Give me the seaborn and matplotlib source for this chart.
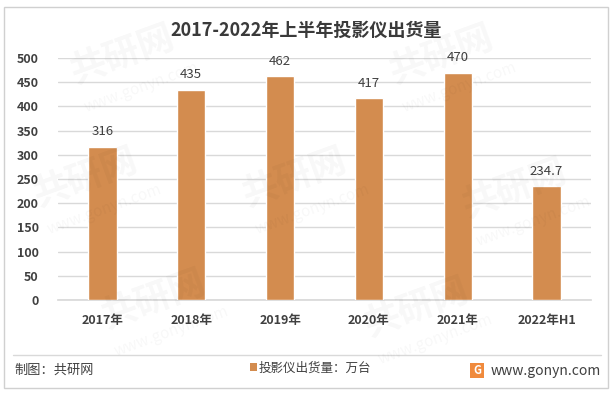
import matplotlib
matplotlib.use("Agg")
import matplotlib.pyplot as plt
import pandas as pd
import seaborn as sns
from matplotlib.patches import Rectangle

years = ["2017年", "2018年", "2019年", "2020年", "2021年", "2022年H1"]
shipments = [316, 435, 462, 417, 470, 234.7]
value_labels = ["316", "435", "462", "417", "470", "234.7"]

df = pd.DataFrame({"year": years, "shipments": shipments})

sns.set_theme(style="white")
plt.rcParams["font.family"] = ["Noto Sans CJK SC", "DejaVu Sans"]

bar_color = "#D38C4F"
text_color = "#404040"

fig = plt.figure(figsize=(6.13, 3.95), dpi=100)
ax = fig.add_axes([0.0946, 0.2405, 0.8695, 0.6125])

sns.barplot(x="year", y="shipments", data=df, color=bar_color, width=0.32,
            saturation=1, ax=ax, zorder=3)

for patch, lab in zip(ax.patches, value_labels):
    ax.text(patch.get_x() + patch.get_width() / 2, patch.get_height() + 18, lab,
            ha="center", va="bottom", fontsize=9.5, color=text_color)

ax.set_ylim(0, 500)
ax.set_yticks(range(0, 501, 50))
ax.yaxis.grid(True, color="#D9D9D9", linewidth=1, zorder=0)
ax.set_xlabel("")
ax.set_ylabel("")
for s in ["top", "right", "left"]:
    ax.spines[s].set_visible(False)
ax.spines["bottom"].set_color("#D9D9D9")
ax.tick_params(axis="both", length=0, labelsize=9, labelcolor=text_color)
ax.tick_params(axis="y", pad=14)
ax.tick_params(axis="x", pad=10)
for t in ax.get_xticklabels() + ax.get_yticklabels():
    t.set_fontweight("bold")

fig.text(0.5, 0.922, "2017-2022年上半年投影仪出货量", ha="center", va="center",
         fontsize=13, fontweight="bold", color="#3A3A3A")

# frame and footer
fig.patches.append(Rectangle((0.007, 0.018), 0.985, 0.965, transform=fig.transFigure,
                             fill=False, edgecolor="#D0D0D0", linewidth=1))
fig.add_artist(plt.Line2D([0.022, 0.98], [0.101, 0.101], transform=fig.transFigure,
                          color="#D9D9D9", linewidth=1))
fig.text(0.024, 0.062, "制图：共研网", ha="left", va="center", fontsize=9.5,
         color=text_color)
fig.patches.append(Rectangle((0.408, 0.06), 0.011, 0.02, transform=fig.transFigure,
                             facecolor=bar_color, edgecolor="none"))
fig.text(0.422, 0.068, "投影仪出货量：万台", ha="left", va="center", fontsize=9,
         color=text_color)
fig.patches.append(Rectangle((0.766, 0.042), 0.024, 0.038, transform=fig.transFigure,
                             facecolor="#F08A3C", edgecolor="none"))
fig.text(0.778, 0.061, "G", ha="center", va="center", fontsize=8, color="white",
         fontweight="bold")
fig.text(0.8, 0.062, "www.gonyn.com", ha="left", va="center", fontsize=10,
         color=text_color)

# faint watermarks
for x, y in [(0.2, 0.86), (0.72, 0.86), (0.14, 0.55), (0.48, 0.55), (0.84, 0.52),
             (0.25, 0.24), (0.68, 0.22)]:
    fig.text(x, y, "共研网", fontsize=26, fontweight="bold", color="#000000",
             alpha=0.03, rotation=20, ha="center", va="center")
    fig.text(x + 0.03, y - 0.08, "www.gonyn.com", fontsize=11, color="#000000",
             alpha=0.03, rotation=20, ha="center", va="center")

fig.savefig("out.png", dpi=100)
